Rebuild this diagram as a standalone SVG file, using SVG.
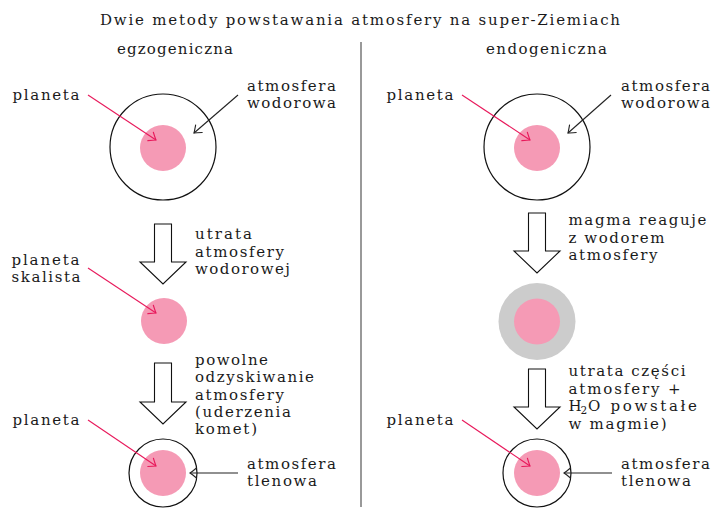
<svg xmlns="http://www.w3.org/2000/svg" width="712" height="508" viewBox="0 0 712 508">
<style>
text{font-family:"DejaVu Serif","Liberation Serif",serif;font-size:15px;fill:#1a1a1a}
.atm{fill:none;stroke:#111;stroke-width:1.2}
.core{fill:#f59ab5}
.halo{fill:#cccccc}
.blk{fill:#fff;stroke:#111;stroke-width:1.1;stroke-linejoin:miter}
.ptr{fill:none;stroke:#e8195b;stroke-width:1.1}
.ptrk{fill:none;stroke:#222;stroke-width:1.1}
</style>
<defs>
<marker id="hr" markerUnits="userSpaceOnUse" markerWidth="14" markerHeight="14" refX="0" refY="0" viewBox="-9 -7 11 14" orient="auto" overflow="visible">
<path d="M-6.5,-5 Q-1.8,-1.2 0,0 Q-1.8,1.2 -6.5,5" fill="none" stroke="#e8195b" stroke-width="1.1" stroke-linecap="round"/>
</marker>
<marker id="hk" markerUnits="userSpaceOnUse" markerWidth="14" markerHeight="14" refX="0" refY="0" viewBox="-9 -7 11 14" orient="auto" overflow="visible">
<path d="M-6.5,-5 Q-1.8,-1.2 0,0 Q-1.8,1.2 -6.5,5" fill="none" stroke="#222" stroke-width="1.1" stroke-linecap="round"/>
</marker>
</defs>

<g id="title">
<text x="100" y="25" textLength="520" lengthAdjust="spacing">Dwie metody powstawania atmosfery na super-Ziemiach</text>
<text x="117" y="54" textLength="116" lengthAdjust="spacing">egzogeniczna</text>
<text x="486" y="54" textLength="121" lengthAdjust="spacing">endogeniczna</text>
</g>

<g id="divider"><line x1="361" y1="42" x2="361" y2="507" stroke="#777" stroke-width="1.5"/></g>

<!-- left column -->
<g id="L1">
<circle class="atm" cx="163" cy="147" r="53"/>
<circle class="core" cx="163" cy="148" r="23"/>
</g>
<g id="L1-labels">
<text x="12.5" y="100" textLength="67" lengthAdjust="spacing">planeta</text>
<text x="247" y="91" textLength="89" lengthAdjust="spacing">atmosfera</text>
<text x="247" y="108" textLength="89" lengthAdjust="spacing">wodorowa</text>
</g>
<g id="LA1">
<polygon class="blk" points="154.5,224 171.5,224 171.5,262 186,262 163,284 140,262 154.5,262"/>
<text x="195" y="239" textLength="57" lengthAdjust="spacing">utrata</text>
<text x="195" y="256.5" textLength="89" lengthAdjust="spacing">atmosfery</text>
<text x="195" y="274" textLength="95" lengthAdjust="spacing">wodorowej</text>
</g>
<g id="L2">
<circle class="core" cx="164" cy="321" r="23"/>
<text x="11.5" y="265" textLength="68" lengthAdjust="spacing">planeta</text>
<text x="11.5" y="282" textLength="69" lengthAdjust="spacing">skalista</text>
</g>
<g id="LA2">
<polygon class="blk" points="154.5,363 171.5,363 171.5,402 186,402 163,424 140,402 154.5,402"/>
<text x="195" y="365" textLength="73" lengthAdjust="spacing">powolne</text>
<text x="195" y="382.3" textLength="119" lengthAdjust="spacing">odzyskiwanie</text>
<text x="195" y="399.6" textLength="89" lengthAdjust="spacing">atmosfery</text>
<text x="195" y="416.9" textLength="96" lengthAdjust="spacing">(uderzenia</text>
<text x="195" y="434.2" textLength="62" lengthAdjust="spacing">komet)</text>
</g>
<g id="L3">
<circle class="atm" cx="163" cy="473" r="34"/>
<circle class="core" cx="163" cy="473" r="23"/>
<text x="12.5" y="425" textLength="67" lengthAdjust="spacing">planeta</text>
<text x="247" y="469" textLength="89" lengthAdjust="spacing">atmosfera</text>
<text x="247" y="486" textLength="70" lengthAdjust="spacing">tlenowa</text>
</g>

<!-- right column -->
<g id="R1">
<circle class="atm" cx="537" cy="147" r="53"/>
<circle class="core" cx="537" cy="148" r="23"/>
</g>
<g id="R1-labels">
<text x="386.5" y="100" textLength="67" lengthAdjust="spacing">planeta</text>
<text x="621" y="91" textLength="89" lengthAdjust="spacing">atmosfera</text>
<text x="621" y="108" textLength="89" lengthAdjust="spacing">wodorowa</text>
</g>
<g id="RA1">
<polygon class="blk" points="528.5,213 545.5,213 545.5,251 560,251 537,273 514,251 528.5,251"/>
<text x="568.5" y="225" textLength="138" lengthAdjust="spacing">magma reaguje</text>
<text x="568.5" y="242.5" textLength="96" lengthAdjust="spacing">z wodorem</text>
<text x="568.5" y="260" textLength="89" lengthAdjust="spacing">atmosfery</text>
</g>
<g id="R2">
<circle class="halo" cx="537" cy="321.5" r="38.5"/>
<circle class="core" cx="537" cy="321.5" r="23"/>
</g>
<g id="RA2">
<polygon class="blk" points="528.5,369 545.5,369 545.5,407 560,407 537,429 514,407 528.5,407"/>
<text x="568.5" y="376" textLength="117" lengthAdjust="spacing">utrata części</text>
<text x="568.5" y="393.5" textLength="112" lengthAdjust="spacing">atmosfery +</text>
<text x="568.5" y="411">H</text>
<text x="580.5" y="414" style="font-size:10.5px">2</text>
<text x="588" y="411" textLength="109" lengthAdjust="spacing">O powstałe</text>
<text x="568.5" y="428.5" textLength="98" lengthAdjust="spacing">w magmie)</text>
</g>
<g id="R3">
<circle class="atm" cx="537" cy="473" r="34"/>
<circle class="core" cx="537" cy="473" r="23"/>
<text x="386.5" y="425" textLength="67" lengthAdjust="spacing">planeta</text>
<text x="621" y="469" textLength="89" lengthAdjust="spacing">atmosfera</text>
<text x="621" y="486" textLength="70" lengthAdjust="spacing">tlenowa</text>
</g>

<g id="connectors">
<line class="ptr" x1="88" y1="95" x2="156" y2="140" marker-end="url(#hr)"/>
<line class="ptrk" x1="238" y1="95" x2="194" y2="133" marker-end="url(#hk)"/>
<line class="ptr" x1="88" y1="268" x2="156" y2="313" marker-end="url(#hr)"/>
<line class="ptr" x1="88" y1="420" x2="156" y2="466" marker-end="url(#hr)"/>
<line class="ptrk" x1="238" y1="473" x2="190" y2="473" marker-end="url(#hk)"/>
<line class="ptr" x1="462" y1="95" x2="530" y2="140" marker-end="url(#hr)"/>
<line class="ptrk" x1="611" y1="95" x2="568" y2="133" marker-end="url(#hk)"/>
<line class="ptr" x1="462" y1="420" x2="530" y2="466" marker-end="url(#hr)"/>
<line class="ptrk" x1="612" y1="473" x2="564" y2="473" marker-end="url(#hk)"/>
</g>
</svg>
